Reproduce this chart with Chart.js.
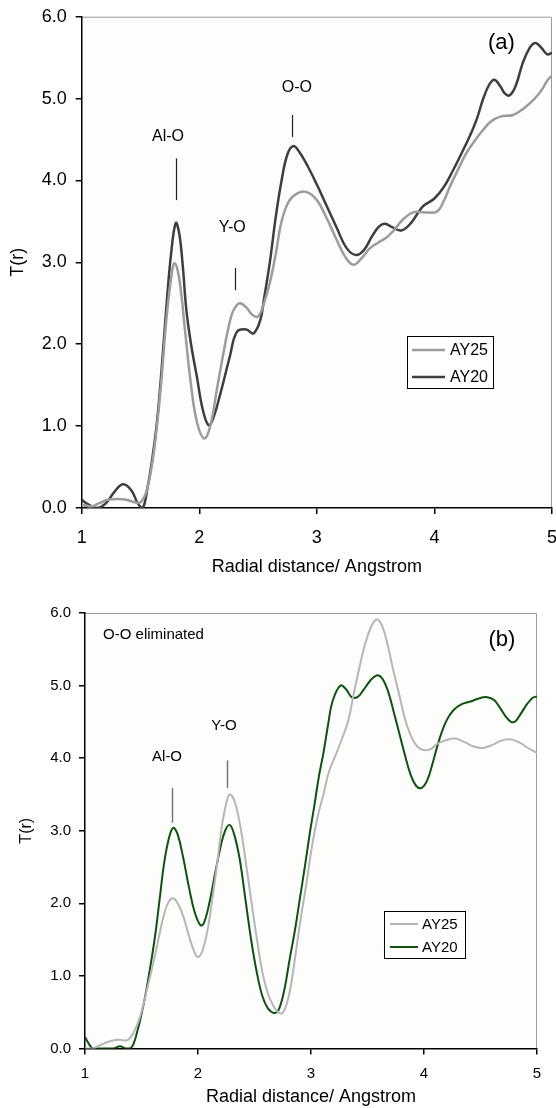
<!DOCTYPE html>
<html>
<head>
<meta charset="utf-8">
<script src="https://cdn.jsdelivr.net/npm/chart.js@4.4.1/dist/chart.umd.min.js"></script>
<style>
    html, body { margin: 0; padding: 0; background: #fff; }
    #wrap { position: relative; width: 556px; height: 1108px; overflow: hidden; }
    canvas { position: absolute; left: 0; }
    #chart-a { top: 0; }
    #chart-b { top: 580px; }
</style>
</head>
<body>
<div id="wrap">
    <canvas id="chart-a" width="556" height="580"></canvas>
    <canvas id="chart-b" width="556" height="528"></canvas>
</div>
<script>
// ---- Data: T(r) curves, r in Angstrom ------------------------------------
const R_TICKS = [1, 2, 3, 4, 5];
const T_TICKS = [0, 1, 2, 3, 4, 5, 6];

// (a) total T(r)
const A_AY25_R = [1.00, 1.08, 1.15, 1.22, 1.30, 1.38, 1.45, 1.50, 1.55, 1.60, 1.64, 1.68, 1.72, 1.76, 1.79, 1.83, 1.88, 1.93, 1.98, 2.04,
    2.09, 2.15, 2.20, 2.24, 2.28, 2.32, 2.35, 2.40, 2.45, 2.50, 2.55, 2.60, 2.65, 2.70, 2.76, 2.83, 2.91, 3.00, 3.08, 3.17,
    3.24, 3.31, 3.38, 3.45, 3.52, 3.59, 3.66, 3.73, 3.82, 3.92, 4.02, 4.08, 4.13, 4.20, 4.27, 4.34, 4.41, 4.48, 4.56, 4.67,
    4.76, 4.84, 4.91, 4.96, 5.00];
const A_AY25_T = [0.04, 0.02, 0.06, 0.10, 0.11, 0.10, 0.07, 0.07, 0.20, 0.55, 1.00, 1.60, 2.30, 2.80, 2.99, 2.80, 2.15, 1.50, 1.05, 0.85,
    0.98, 1.45, 1.85, 2.15, 2.38, 2.48, 2.50, 2.45, 2.36, 2.34, 2.50, 2.75, 3.10, 3.50, 3.74, 3.84, 3.86, 3.76, 3.55, 3.27,
    3.07, 2.97, 3.05, 3.17, 3.24, 3.30, 3.40, 3.52, 3.61, 3.61, 3.62, 3.75, 3.92, 4.13, 4.33, 4.48, 4.61, 4.72, 4.78, 4.80,
    4.88, 4.98, 5.10, 5.22, 5.28];

const A_AY20_R = [1.00, 1.06, 1.13, 1.20, 1.28, 1.35, 1.42, 1.48, 1.52, 1.56, 1.60, 1.64, 1.68, 1.72, 1.76, 1.80, 1.83, 1.86, 1.89, 1.93,
    1.98, 2.03, 2.08, 2.12, 2.18, 2.26, 2.32, 2.40, 2.46, 2.52, 2.55, 2.60, 2.65, 2.70, 2.75, 2.80, 2.85, 2.92, 3.00, 3.08,
    3.17, 3.25, 3.33, 3.40, 3.47, 3.53, 3.58, 3.64, 3.72, 3.80, 3.90, 4.00, 4.08, 4.15, 4.22, 4.30, 4.36, 4.42, 4.47, 4.51,
    4.56, 4.60, 4.64, 4.69, 4.75, 4.81, 4.86, 4.91, 4.96, 5.00];
const A_AY20_T = [0.10, 0.04, 0.00, 0.05, 0.20, 0.29, 0.22, 0.05, 0.00, 0.25, 0.60, 1.05, 1.70, 2.45, 3.10, 3.48, 3.35, 2.95, 2.42, 2.00,
    1.60, 1.20, 1.01, 1.10, 1.40, 1.85, 2.15, 2.18, 2.13, 2.30, 2.55, 3.00, 3.55, 4.00, 4.32, 4.42, 4.35, 4.18, 3.95, 3.70,
    3.42, 3.18, 3.09, 3.15, 3.32, 3.44, 3.47, 3.43, 3.39, 3.48, 3.68, 3.78, 3.92, 4.10, 4.30, 4.54, 4.75, 5.02, 5.18, 5.23,
    5.15, 5.06, 5.04, 5.15, 5.43, 5.62, 5.68, 5.62, 5.54, 5.56];

// (b) T(r) with the O-O contribution removed
const B_AY25_R = [1.00, 1.07, 1.14, 1.22, 1.30, 1.38, 1.44, 1.49, 1.55, 1.61, 1.66, 1.70, 1.74, 1.78, 1.82, 1.87, 1.92, 1.97, 2.00, 2.04,
    2.09, 2.13, 2.17, 2.21, 2.25, 2.28, 2.32, 2.37, 2.42, 2.47, 2.52, 2.57, 2.62, 2.67, 2.71, 2.75, 2.80, 2.85, 2.90, 2.96,
    3.01, 3.06, 3.11, 3.16, 3.22, 3.27, 3.33, 3.38, 3.43, 3.48, 3.53, 3.58, 3.63, 3.68, 3.73, 3.78, 3.83, 3.88, 3.93, 3.98,
    4.05, 4.12, 4.20, 4.28, 4.36, 4.44, 4.52, 4.60, 4.68, 4.76, 4.84, 4.92, 5.00];
const B_AY25_T = [0.00, 0.00, 0.05, 0.10, 0.12, 0.12, 0.25, 0.45, 0.82, 1.22, 1.58, 1.85, 2.02, 2.07, 2.00, 1.82, 1.55, 1.32, 1.26, 1.35,
    1.68, 2.10, 2.55, 3.05, 3.38, 3.50, 3.42, 3.10, 2.60, 2.05, 1.52, 1.05, 0.75, 0.58, 0.50, 0.49, 0.70, 1.15, 1.70, 2.28,
    2.80, 3.20, 3.50, 3.82, 4.05, 4.25, 4.52, 4.90, 5.26, 5.58, 5.80, 5.91, 5.82, 5.55, 5.20, 4.88, 4.55, 4.32, 4.18, 4.12,
    4.12, 4.20, 4.25, 4.27, 4.22, 4.16, 4.14, 4.18, 4.24, 4.26, 4.22, 4.14, 4.07];

const B_AY20_R = [1.00, 1.04, 1.07, 1.15, 1.25, 1.31, 1.36, 1.41, 1.46, 1.52, 1.57, 1.62, 1.66, 1.70, 1.74, 1.78, 1.82, 1.87, 1.92, 1.97,
    2.02, 2.05, 2.10, 2.15, 2.20, 2.24, 2.28, 2.32, 2.37, 2.42, 2.47, 2.52, 2.57, 2.62, 2.67, 2.71, 2.76, 2.81, 2.86, 2.90,
    2.95, 2.99, 3.03, 3.07, 3.11, 3.15, 3.19, 3.26, 3.31, 3.36, 3.41, 3.46, 3.52, 3.58, 3.63, 3.68, 3.73, 3.78, 3.83, 3.88,
    3.93, 3.98, 4.03, 4.08, 4.14, 4.20, 4.26, 4.33, 4.41, 4.50, 4.56, 4.62, 4.67, 4.72, 4.77, 4.81, 4.86, 4.91, 4.96, 5.00];
const B_AY20_T = [0.16, 0.05, 0.00, 0.00, 0.00, 0.03, 0.00, 0.01, 0.22, 0.62, 1.05, 1.55, 2.05, 2.55, 2.88, 3.04, 2.95, 2.62, 2.22, 1.88,
    1.70, 1.72, 2.00, 2.40, 2.78, 3.00, 3.08, 2.95, 2.60, 2.05, 1.50, 1.05, 0.72, 0.55, 0.49, 0.52, 0.78, 1.22, 1.65, 2.05,
    2.55, 2.97, 3.35, 3.75, 4.07, 4.45, 4.78, 5.00, 4.95, 4.84, 4.84, 4.93, 5.06, 5.14, 5.10, 4.93, 4.65, 4.35, 4.05, 3.78,
    3.62, 3.59, 3.70, 3.95, 4.28, 4.52, 4.66, 4.74, 4.78, 4.83, 4.84, 4.80, 4.70, 4.58, 4.50, 4.51, 4.62, 4.74, 4.83, 4.85];

// peak labels: text position (r, T), marker from T1 down to T2 at rLine
const A_NOTES = [
    { text: 'Al-O', r: 1.734, t: 4.53, rLine: 1.80, t1: 4.27, t2: 3.76 },
    { text: 'Y-O',  r: 2.28,  t: 3.43, rLine: 2.30, t1: 2.93, t2: 2.66 },
    { text: 'O-O',  r: 2.83,  t: 5.14, rLine: 2.79, t1: 4.80, t2: 4.53 },
];
const B_NOTES = [
    { text: 'Al-O', r: 1.726, t: 4.02, rLine: 1.77,  t1: 3.59, t2: 3.11 },
    { text: 'Y-O',  r: 2.23,  t: 4.45, rLine: 2.257, t1: 3.97, t2: 3.59 },
];

const FONT = "'Liberation Sans', Arial, Helvetica, sans-serif";

function xy(rs, ts) {
    return rs.map((r, i) => ({ x: r, y: ts[i] }));
}

// ---- Plot frame, peak labels and boxed legend ----------------------------
function decorPlugin(cfg) {
    return {
        id: 'decor',
        beforeDraw(chart) {
            const { ctx, chartArea: a } = chart;
            ctx.save();
            ctx.fillStyle = '#fdfdfc';
            ctx.fillRect(a.left, a.top, a.right - a.left, a.bottom - a.top);
            ctx.strokeStyle = '#9a9a9a';
            ctx.lineWidth = 1;
            ctx.beginPath();
            ctx.moveTo(a.left, a.top + 0.5);
            ctx.lineTo(a.right - 0.5, a.top + 0.5);
            ctx.lineTo(a.right - 0.5, a.bottom);
            ctx.stroke();
            ctx.restore();
        },
        afterDatasetsDraw(chart) {
            const { ctx, scales: { x, y } } = chart;
            ctx.save();
            ctx.fillStyle = '#000';
            ctx.textAlign = 'center';
            ctx.textBaseline = 'middle';
            ctx.font = `${cfg.noteSize}px ${FONT}`;
            cfg.notes.forEach(n => {
                ctx.fillText(n.text, x.getPixelForValue(n.r), y.getPixelForValue(n.t));
                const lx = Math.round(x.getPixelForValue(n.rLine)) + 0.5;
                ctx.strokeStyle = cfg.noteLine;
                ctx.lineWidth = cfg.noteWidth;
                ctx.beginPath();
                ctx.moveTo(lx, y.getPixelForValue(n.t1));
                ctx.lineTo(lx, y.getPixelForValue(n.t2));
                ctx.stroke();
            });
            // panel tag
            ctx.font = `${cfg.tag.size}px ${FONT}`;
            ctx.fillText(cfg.tag.text, x.getPixelForValue(cfg.tag.r), y.getPixelForValue(cfg.tag.t));
            if (cfg.caption) {
                ctx.textAlign = 'left';
                ctx.font = `${cfg.caption.size}px ${FONT}`;
                ctx.fillText(cfg.caption.text, x.getPixelForValue(cfg.caption.r), y.getPixelForValue(cfg.caption.t));
            }

            // legend box
            const L = cfg.legend;
            ctx.fillStyle = '#fff';
            ctx.fillRect(L.x, L.y, L.w, L.h);
            ctx.strokeStyle = '#000';
            ctx.lineWidth = 1;
            ctx.strokeRect(L.x + 0.5, L.y + 0.5, L.w, L.h);
            ctx.textAlign = 'left';
            ctx.font = `${L.size}px ${FONT}`;
            chart.data.datasets.forEach((ds, i) => {
                const ly = L.y + L.row0 + i * L.rowGap;
                ctx.strokeStyle = ds.borderColor;
                ctx.lineWidth = ds.borderWidth;
                ctx.beginPath();
                ctx.moveTo(L.x + L.line0, ly);
                ctx.lineTo(L.x + L.line1, ly);
                ctx.stroke();
                ctx.fillStyle = '#000';
                ctx.fillText(ds.label, L.x + L.text0, ly + 1);
            });
            ctx.restore();
        }
    };
}

function makeChart(id, p) {
    return new Chart(document.getElementById(id), {
        type: 'line',
        data: {
            datasets: p.series.map(s => ({
                label: s.label,
                data: s.data,
                borderColor: s.color,
                borderWidth: s.width,
                pointRadius: 0,
                tension: 0.4,
                fill: false,
            }))
        },
        options: {
            responsive: false,
            animation: false,
            devicePixelRatio: 1,
            layout: { padding: { top: p.top, right: p.right, left: 0, bottom: 0 } },
            plugins: { legend: { display: false }, tooltip: { enabled: false } },
            scales: {
                x: {
                    type: 'linear',
                    min: 1, max: 5,
                    afterBuildTicks: s => { s.ticks = R_TICKS.map(v => ({ value: v })); },
                    afterFit: s => { s.height = p.xHeight; s.paddingLeft = 0; s.paddingRight = 0; },
                    border: { display: true, color: '#000', width: 1.5 },
                    grid: { drawOnChartArea: false, drawTicks: true, tickLength: 6, color: '#000', lineWidth: 1.5 },
                    ticks: { color: '#000', font: { family: FONT, size: p.tickSize }, padding: p.xPad, maxRotation: 0, autoSkip: false },
                    title: {
                        display: true, text: 'Radial distance/ Angstrom', color: '#000',
                        font: { family: FONT, size: 18 }, padding: { top: 0, bottom: p.xTitlePad }
                    }
                },
                y: {
                    min: 0, max: 6,
                    afterBuildTicks: s => { s.ticks = T_TICKS.map(v => ({ value: v })); },
                    afterFit: s => { s.width = p.yWidth; s.paddingTop = 0; s.paddingBottom = 0; },
                    border: { display: true, color: '#000', width: 1.5 },
                    grid: { drawOnChartArea: false, drawTicks: true, tickLength: 6, color: '#000', lineWidth: 1.5 },
                    ticks: { color: '#000', font: { family: FONT, size: p.tickSize }, padding: p.yPad, callback: v => v.toFixed(1) },
                    title: {
                        display: true, text: 'T(r)', color: '#000',
                        font: { family: FONT, size: p.yTitleSize }, padding: { top: p.yTitlePad, bottom: 0 }
                    }
                }
            }
        },
        plugins: [decorPlugin(p.decor)]
    });
}

// (a) total correlation function
makeChart('chart-a', {
    top: 16.7, right: 4, xHeight: 72, yWidth: 81.7,
    tickSize: 18, xPad: 13, yPad: 9, xTitlePad: 2, yTitleSize: 18, yTitlePad: 7,
    series: [
        { label: 'AY25', data: xy(A_AY25_R, A_AY25_T), color: '#9c9c9c', width: 2.5 },
        { label: 'AY20', data: xy(A_AY20_R, A_AY20_T), color: '#3e3e3e', width: 2.5 },
    ],
    decor: {
        notes: A_NOTES, noteSize: 16, noteLine: '#222', noteWidth: 1.2,
        tag: { text: '(a)', r: 4.57, t: 5.68, size: 22 },
        legend: { x: 407, y: 336, w: 86, h: 52, size: 16, row0: 14, rowGap: 27, line0: 5, line1: 38, text0: 43 }
    }
});

// (b) O-O pairs removed
makeChart('chart-b', {
    top: 33, right: 19, xHeight: 59.5, yWidth: 85,
    tickSize: 15, xPad: 10, yPad: 8, xTitlePad: 0, yTitleSize: 16, yTitlePad: 17,
    series: [
        { label: 'AY25', data: xy(B_AY25_R, B_AY25_T), color: '#b6b6b6', width: 2 },
        { label: 'AY20', data: xy(B_AY20_R, B_AY20_T), color: '#0d520d', width: 2 },
    ],
    decor: {
        notes: B_NOTES, noteSize: 15, noteLine: '#777', noteWidth: 1.5,
        tag: { text: '(b)', r: 4.69, t: 5.63, size: 22 },
        caption: { text: 'O-O eliminated', r: 1.16, t: 5.70, size: 15 },
        legend: { x: 384, y: 331, w: 81, h: 47, size: 15, row0: 13, rowGap: 23, line0: 6, line1: 34, text0: 38 }
    }
});
</script>
</body>
</html>
